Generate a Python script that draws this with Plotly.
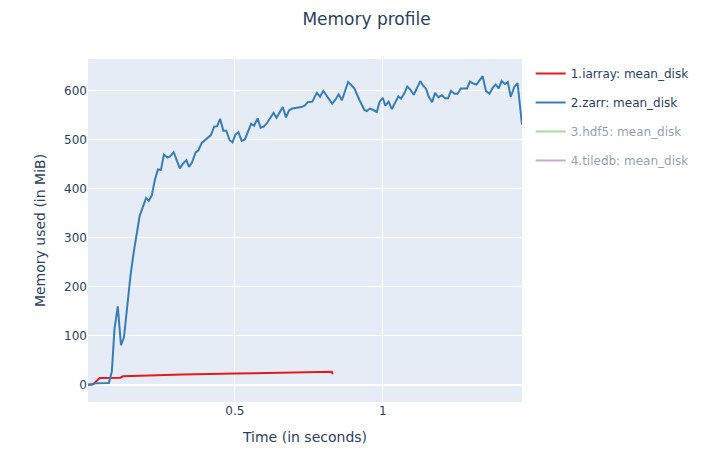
import plotly.graph_objects as go

# iarray
iarray_t = [0.0034, 0.02, 0.043, 0.113, 0.122, 0.2, 0.323, 0.5, 0.7, 0.828, 0.831]
iarray_mem = [0, 1, 14, 14.5, 17.5, 19, 21, 23, 25, 26.5, 22]

# zarr
zarr_t = [0.0034, 0.02, 0.031, 0.074, 0.084, 0.093, 0.104, 0.115, 0.125, 0.135,
          0.147, 0.158, 0.168, 0.178, 0.19, 0.2, 0.209, 0.219, 0.23, 0.24,
          0.25, 0.26, 0.272, 0.282, 0.293, 0.303, 0.314, 0.325, 0.336, 0.345,
          0.355, 0.367, 0.377, 0.388, 0.399, 0.409, 0.419, 0.43, 0.44, 0.45,
          0.461, 0.471, 0.482, 0.492, 0.502, 0.512, 0.523, 0.534, 0.544, 0.555,
          0.565, 0.577, 0.587, 0.598, 0.609, 0.62, 0.631, 0.641, 0.651, 0.662,
          0.673, 0.683, 0.694, 0.705, 0.715, 0.725, 0.736, 0.747,
          0.762, 0.777, 0.788, 0.799, 0.814, 0.829, 0.84, 0.851, 0.862, 0.883,
          0.895, 0.904, 0.921, 0.938, 0.946, 0.957, 0.968, 0.98, 0.989, 1.0,
          1.009, 1.02, 1.031, 1.042, 1.053, 1.062, 1.074, 1.083, 1.094, 1.105,
          1.116, 1.127, 1.136, 1.147, 1.155, 1.167, 1.177, 1.188, 1.2, 1.211,
          1.221, 1.231, 1.243, 1.253, 1.264, 1.275, 1.285, 1.295, 1.306, 1.317,
          1.327, 1.338, 1.349, 1.361, 1.372, 1.382, 1.392, 1.402, 1.413, 1.423,
          1.433, 1.445, 1.456, 1.471]
zarr_mem = [0, 1, 3.5, 4, 27, 114, 160, 81, 97, 161,
            222, 270, 303, 344, 364, 381, 375, 386, 419, 439,
            438, 469, 463, 466, 474, 456, 441, 451, 458, 444,
            453, 473, 478, 493, 499, 503, 509, 526, 527, 542,
            518, 518, 499, 494, 510, 515, 497, 500, 515, 532,
            528, 543, 524, 526, 534, 544, 554, 544, 554, 566,
            545, 559, 563, 564, 565, 566, 569, 576,
            577, 595, 587, 599, 586, 573, 581, 592, 580, 617,
            610, 604, 581, 560, 558, 563, 560, 556, 576, 585,
            569, 577, 562, 574, 588, 583, 595, 608, 601, 591,
            607, 619, 610, 603, 588, 576, 595, 586, 590, 584,
            584, 599, 593, 593, 604, 604, 604, 618, 614, 612,
            621, 629, 599, 593, 605, 612, 604, 619, 613, 617,
            587, 607, 615, 530]

# hdf5 and tiledb are hidden (legend only) in the reference; their values are not visible
hdf5_t = [None]
hdf5_mem = [None]
tiledb_t = [None]
tiledb_mem = [None]

names = ["1.iarray: mean_disk", "2.zarr: mean_disk", "3.hdf5: mean_disk", "4.tiledb: mean_disk"]
colors = ["#e41a1c", "#377eb8", "#4daf4a", "#984ea3"]
series = [(iarray_t, iarray_mem, True), (zarr_t, zarr_mem, True),
          (hdf5_t, hdf5_mem, "legendonly"), (tiledb_t, tiledb_mem, "legendonly")]

fig = go.Figure()
for (t, m, vis), name, c in zip(series, names, colors):
    fig.add_trace(go.Scatter(x=t, y=m, mode="lines", name=name, visible=vis,
                             legendgroup=name, line=dict(color=c, width=2)))

fig.update_layout(
    width=717, height=447,
    template="plotly",
    font=dict(family="Verdana, DejaVu Sans, sans-serif"),
    title=dict(text="Memory profile", x=0.5, xanchor="center", y=0.976, yanchor="middle",
               font=dict(size=17)),
    margin=dict(l=80, r=203, t=51, b=47),
    xaxis=dict(title=dict(text="Time (in seconds)")),
    yaxis=dict(title=dict(text="Memory used (in MiB)")),
    legend=dict(tracegroupgap=10),
)
fig.write_html("out.html")
